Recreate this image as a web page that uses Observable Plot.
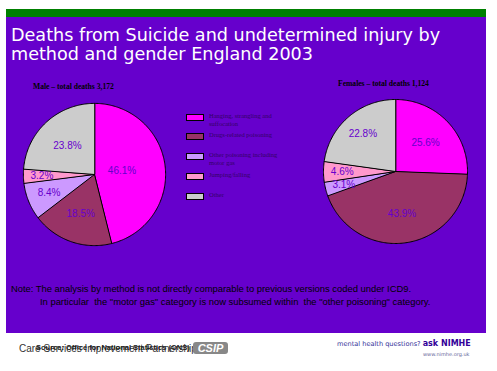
<!DOCTYPE html>
<html>
<head>
<meta charset="utf-8">
<script src="https://cdn.jsdelivr.net/npm/d3@7"></script>
<script src="https://cdn.jsdelivr.net/npm/@observablehq/plot@0.6"></script>
<style>
  html, body { margin: 0; padding: 0; background: #fff; }
  #page { position: relative; width: 497px; height: 371px; overflow: hidden; background: #fff; }
  .abs { position: absolute; }
  #green { left: 6px; top: 9px; width: 480px; height: 8px; background: #008000; }
  #panel { left: 6px; top: 17px; width: 480px; height: 316px; background: #6600CC; }
  #title { left: 11px; top: 26px; color: #fff; font: 17.6px "DejaVu Sans", sans-serif; line-height: 19px; white-space: nowrap; }
  .pietitle { font: bold 7.6px "Liberation Serif", serif; color: #000; white-space: nowrap; }
  .legrow { position: absolute; left: 186px; }
  .sw { position: absolute; left: 0; top: 0; width: 16px; height: 5px; border: 1.5px solid #000; }
  .lt { position: absolute; left: 23px; top: -2px; width: 80px; font: 6.5px "Liberation Serif", serif; color: #330066; line-height: 8px; }
  .note { font: 9.4px "Liberation Sans", Arial, sans-serif; color: #000; white-space: nowrap; }
  svg { overflow: visible; }
</style>
</head>
<body>
<div id="page">
  <div id="green" class="abs"></div>
  <div id="panel" class="abs"></div>
  <div id="title" class="abs">Deaths from Suicide and undetermined injury by<br>method and gender England 2003</div>
  <div id="maleTitle" class="abs pietitle" style="left:33px; top:82px;"></div>
  <div id="femaleTitle" class="abs pietitle" style="left:338px; top:79px;"></div>
  <div id="male" class="abs" style="left:14px; top:94px;"></div>
  <div id="female" class="abs" style="left:314.5px; top:91px;"></div>
  <div id="legend" class="abs" style="left:0; top:0;"></div>
  <div class="abs note" style="left:11px; top:283px;">Note: The analysis by method is not directly comparable to previous versions coded under ICD9.</div>
  <div class="abs note" style="left:40px; top:296px;">In particular &nbsp;the "motor gas" category is now subsumed within &nbsp;the "other poisoning" category.</div>
  <div class="abs" style="left:19px; top:343px; font: 10px 'Liberation Sans', sans-serif; color:#333; white-space:nowrap;">Care Services Improvement Partnership</div>
  <div class="abs" style="left:36px; top:343px; font: bold 7.5px 'Liberation Sans', sans-serif; color:#222; white-space:nowrap;">Source: Office for National Statistics (ONS)</div>
  <div class="abs" style="left:193px; top:342px; width:35px; height:12px; background:#888; border-radius:3px; color:#fff; font: italic bold 11px 'Liberation Sans', sans-serif; line-height:12px; text-align:center;">CSIP</div>
  <div class="abs" style="left:337px; top:339px; white-space:nowrap; color:#333399; font: 6.6px 'DejaVu Sans', sans-serif;">mental health questions? <b style="font: bold 8px 'DejaVu Sans', sans-serif; color:#330099;">ask NIMHE</b></div>
  <div class="abs" style="left:423px; top:351px; white-space:nowrap; color:#666699; font: 5px 'DejaVu Sans', sans-serif;">www.nimhe.org.uk</div>
</div>
<script>
// ---- data ----
const methods = [
  "Hanging, strangling and suffocation",
  "Drugs-related poisoning",
  "Other poisoning including motor gas",
  "Jumping/falling",
  "Other"
];
const malePct = [46.1, 18.5, 8.4, 3.2, 23.8];
const femalePct = [25.6, 43.9, 3.1, 4.6, 22.8];
const maleTotal = "3,172";
const femaleTotal = "1,124";

// ---- styles / layout ----
const colors = ["#FF00FF", "#993366", "#CC99FF", "#FF99CC", "#CCCCCC"];
const maleLabelR = [0.39, 0.59, 0.69, 0.74, 0.56];
const femaleLabelR = [0.58, 0.59, 0.74, 0.74, 0.69];

document.getElementById("maleTitle").textContent = "Male \u2013 total deaths " + maleTotal;
document.getElementById("femaleTitle").textContent = "Females \u2013 total deaths " + femaleTotal;

function slices(pcts) {
  const rows = [];
  let cum = 0;
  pcts.forEach((p, i) => {
    const a0 = cum / 100 * 2 * Math.PI;
    const a1 = (cum + p) / 100 * 2 * Math.PI;
    rows.push({method: methods[i], x: 0, y: 0});
    const n = Math.max(2, Math.ceil((a1 - a0) / (Math.PI / 180)));
    for (let k = 0; k <= n; k++) {
      const a = a0 + (a1 - a0) * k / n;
      rows.push({method: methods[i], x: Math.sin(a), y: Math.cos(a)});
    }
    cum += p;
  });
  return rows;
}
function labels(pcts, radii) {
  let cum = 0;
  return pcts.map((p, i) => {
    const a = (cum + p / 2) / 100 * 2 * Math.PI;
    cum += p;
    return {method: methods[i], x: radii[i] * Math.sin(a), y: radii[i] * Math.cos(a), text: p.toFixed(1) + "%"};
  });
}
function pie(pcts, radii, D) {
  return Plot.plot({
    width: 160, height: 160, margin: 0,
    x: {domain: [-D, D], axis: null},
    y: {domain: [-D, D], axis: null},
    color: {domain: methods, range: colors, legend: false},
    style: {background: "transparent", overflow: "visible"},
    marks: [
      Plot.line(slices(pcts), {x: "x", y: "y", z: "method", fill: "method", stroke: "#000", strokeWidth: 1, curve: "linear-closed"}),
      Plot.text(labels(pcts, radii), {x: "x", y: "y", text: "text", fill: "#6600CC", fontSize: 10, fontFamily: "Liberation Sans, Arial, sans-serif"})
    ]
  });
}
document.getElementById("male").appendChild(pie(malePct, maleLabelR, 1.125));
document.getElementById("female").appendChild(pie(femalePct, femaleLabelR, 1.111));

// legend
const legendTops = [114, 133, 153, 173, 193];
const leg = document.getElementById("legend");
methods.forEach((m, i) => {
  const row = document.createElement("div");
  row.className = "legrow";
  row.style.top = legendTops[i] + "px";
  const sw = document.createElement("div");
  sw.className = "sw";
  sw.style.background = colors[i];
  const t = document.createElement("div");
  t.className = "lt";
  t.textContent = m;
  row.appendChild(sw); row.appendChild(t);
  leg.appendChild(row);
});
</script>
</body>
</html>
